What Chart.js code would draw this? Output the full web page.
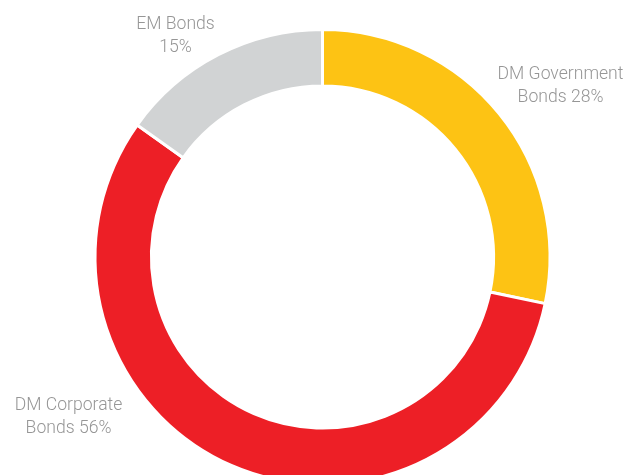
<!DOCTYPE html>
<html>
<head>
<meta charset="utf-8">
<script src="https://cdn.jsdelivr.net/npm/chart.js@4/dist/chart.umd.min.js"></script>
<style>
  html, body { margin: 0; padding: 0; background: #fff; overflow: hidden; }
  #wrap { position: absolute; left: 0; top: 0; width: 637px; height: 520px; }
</style>
</head>
<body>
<div id="wrap"><canvas id="c"></canvas></div>
<script>
// allocation by bond type, clockwise from 12 o'clock
const categories = ['DM Government Bonds', 'DM Corporate Bonds', 'EM Bonds'];
const shares = [28, 56, 15];
const colors = ['#fdc314', '#ed1f26', '#d1d3d4'];
// label text lines, {v} is replaced by the share
const labelLines = [
    ['DM Government', 'Bonds {v}%'],
    ['DM Corporate', 'Bonds {v}%'],
    ['EM Bonds', '{v}%']
];
// label anchor (first baseline) relative to the ring centre, in px
const labelOffsets = [[238, -178], [-254, 153], [-147, -228]];

const sliceLabels = {
    id: 'sliceLabels',
    afterDraw(chart) {
        const ctx = chart.ctx;
        const arc = chart.getDatasetMeta(0).data[0];
        if (!arc) return;
        ctx.save();
        ctx.font = '300 17.6px Roboto, "Liberation Sans", sans-serif';
        ctx.fillStyle = '#969696';
        ctx.textAlign = 'center';
        ctx.textBaseline = 'alphabetic';
        labelLines.forEach((lines, i) => {
            const [dx, dy] = labelOffsets[i];
            lines.forEach((t, j) => {
                ctx.fillText(t.replace('{v}', shares[i]), arc.x + dx, arc.y + dy + j * 23);
            });
        });
        ctx.restore();
    }
};

new Chart(document.getElementById('c'), {
    type: 'doughnut',
    data: {
        labels: categories,
        datasets: [{
            data: shares,
            backgroundColor: colors,
            borderColor: '#ffffff',
            borderWidth: 3,
            hoverOffset: 0
        }]
    },
    options: {
        responsive: true,
        maintainAspectRatio: false,
        animation: false,
        cutout: '75.2%',
        layout: {padding: {top: 28, bottom: 34, left: 8, right: 0}},
        plugins: {legend: {display: false}, tooltip: {enabled: false}}
    },
    plugins: [sliceLabels]
});
</script>
</body>
</html>
